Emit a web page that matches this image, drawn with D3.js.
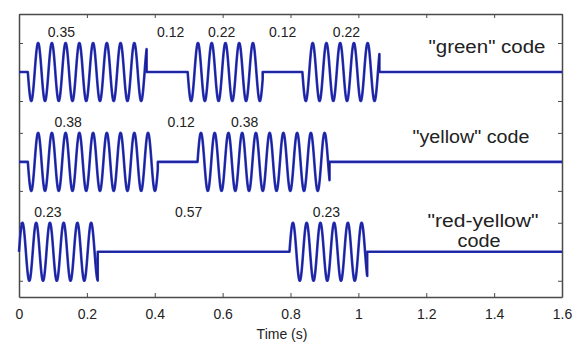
<!DOCTYPE html>
<html>
<head>
<meta charset="utf-8">
<script src="https://cdn.jsdelivr.net/npm/d3@7"></script>
<style>
  html, body { margin: 0; padding: 0; background: #fff; }
  svg { display: block; }
  text { font-family: "Liberation Sans", Arial, sans-serif; fill: #222; }
</style>
</head>
<body>
<svg id="chart" width="579" height="345"></svg>
<script>
// ---- data ----
const traceNames = ['"green" code', '"yellow" code', '"red-yellow" code'];
// tone bursts: [start, end] in seconds
const greenBursts = [[0.026, 0.376], [0.497, 0.718], [0.835, 1.062]];
const yellowBursts = [[0.026, 0.409], [0.526, 0.915]];
const redYellowBursts = [[0.0, 0.232], [0.797, 1.026]];
// starting direction of each burst's carrier (+1 up, -1 down)
const greenPhase = [-1, -1, -1];
const yellowPhase = [-1, 1];
const redYellowPhase = [1, 1];
const carrierHz = 24.7;
// duration annotations: [time position of label centre, text]
const greenLabels = [[0.125, "0.35"], [0.447, "0.12"], [0.597, "0.22"], [0.777, "0.12"], [0.965, "0.22"]];
const yellowLabels = [[0.145, "0.38"], [0.478, "0.12"], [0.665, "0.38"]];
const redYellowLabels = [[0.085, "0.23"], [0.5, "0.57"], [0.906, "0.23"]];
const xTicks = [0, 0.2, 0.4, 0.6, 0.8, 1, 1.2, 1.4, 1.6];
const xTickLabels = ["0", "0.2", "0.4", "0.6", "0.8", "1", "1.2", "1.4", "1.6"];
const traceOffsets = [0, -3.1, -6.2];

// ---- layout ----
const svg = d3.select("#chart");
const L = 19, R = 562, T = 14, B = 297;
const x = d3.scaleLinear().domain([0, 1.6]).range([L, R]);
const y = d3.scaleLinear().domain([-7.76, 2]).range([B, T]);

const traces = [
  { bursts: greenBursts, phase: greenPhase, labels: greenLabels },
  { bursts: yellowBursts, phase: yellowPhase, labels: yellowLabels },
  { bursts: redYellowBursts, phase: redYellowPhase, labels: redYellowLabels }
];

function buildSignal(bursts, phase) {
  const pts = [[0, 0]];
  bursts.forEach((b, i) => {
    const [s, e] = b;
    pts.push([s, 0]);
    for (let t = s; t <= e; t += 0.0004) {
      pts.push([t, phase[i] * Math.sin(2 * Math.PI * carrierHz * (t - s))]);
    }
    pts.push([e, phase[i] * Math.sin(2 * Math.PI * carrierHz * (e - s))]);
    pts.push([e, 0]);
  });
  pts.push([1.6, 0]);
  return pts;
}

// y ticks at +/-1 of each trace
const yTicks = [];
traceOffsets.forEach(o => { yTicks.push(o + 1, o - 1); });

// axes (box with inward ticks)
const axisColor = "#4a4a4a";
const g = svg.append("g");
const bottomAxis = d3.axisBottom(x).tickValues(xTicks).tickFormat((d, i) => xTickLabels[i]).tickSizeInner(-4).tickSizeOuter(0).tickPadding(12);
const topAxis = d3.axisTop(x).tickValues(xTicks).tickFormat("").tickSizeInner(-4).tickSizeOuter(0);
const leftAxis = d3.axisLeft(y).tickValues(yTicks).tickFormat("").tickSizeInner(-4).tickSizeOuter(0);
const rightAxis = d3.axisRight(y).tickValues(yTicks).tickFormat("").tickSizeInner(-4).tickSizeOuter(0);

const gb = g.append("g").attr("transform", `translate(0,${B})`).call(bottomAxis);
const gt = g.append("g").attr("transform", `translate(0,${T})`).call(topAxis);
const gl = g.append("g").attr("transform", `translate(${L},0)`).call(leftAxis);
const gr = g.append("g").attr("transform", `translate(${R},0)`).call(rightAxis);
[gb, gt, gl, gr].forEach(a => {
  a.select(".domain").attr("stroke", axisColor).attr("stroke-width", 1.5);
  a.selectAll(".tick line").attr("stroke", axisColor);
});
gb.selectAll(".tick text").attr("font-size", 14).attr("fill", "#333")
  .attr("font-family", '"Liberation Sans", Arial, sans-serif');

svg.append("text").attr("x", 282).attr("y", 339).attr("text-anchor", "middle")
  .attr("font-size", 14).text("Time (s)");

// signals
const line = d3.line().x(d => x(d[0])).y(d => y(d[1]));
traces.forEach((tr, k) => {
  const pts = buildSignal(tr.bursts, tr.phase).map(p => [p[0], p[1] + traceOffsets[k]]);
  svg.append("path").attr("d", line(pts)).attr("fill", "none")
    .attr("stroke", "#2a37c4").attr("stroke-width", 2.6).attr("stroke-linejoin", "round");
  svg.append("path").attr("d", line(pts)).attr("fill", "none")
    .attr("stroke", "#1a1a80").attr("stroke-width", 1).attr("stroke-linejoin", "round");
});

// duration labels
traces.forEach((tr, k) => {
  tr.labels.forEach(l => {
    svg.append("text").attr("x", x(l[0])).attr("y", y(traceOffsets[k] + 1) - 6)
      .attr("text-anchor", "middle").attr("font-size", 14).text(l[1]);
  });
});

// trace names
function nameText(cx, cy, txt, len) {
  svg.append("text").attr("x", cx - len / 2).attr("y", cy)
    .attr("font-size", 18).attr("textLength", len).attr("lengthAdjust", "spacingAndGlyphs")
    .text(txt);
}
nameText(487, 53, traceNames[0], 117);
nameText(471, 143, traceNames[1], 117);
const nameParts = traceNames[2].split(" ");
nameText(483, 227, nameParts[0], 111);
nameText(479, 247, nameParts[1], 43);
</script>
</body>
</html>
